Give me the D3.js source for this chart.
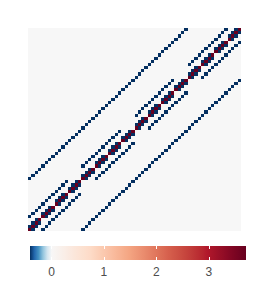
<!DOCTYPE html>
<html><head><meta charset="utf-8">
<script src="https://cdn.jsdelivr.net/npm/d3@7"></script>
<style>body{margin:0;background:#fff}svg{display:block}</style></head><body>
<svg id="c" width="270" height="300"></svg>
<script>
// ---- data ----
const nCells = 64;
const diagValue = 3.71;
const offDiagValue = -0.41;
// runs of rows r with a nonzero at (r, r + offset); the matrix is symmetric
const offset1Runs = [[0,2],[4,6],[8,10],[12,14],[16,18],[20,22],[24,26],[28,30],[32,34],[36,38],[40,42],[44,46],[48,50],[52,54],[56,58],[60,62]];
const offset4Runs = [[0,11],[16,27],[32,43],[48,59]];
const offset16Runs = [[0,47]];
const bandOffsets = [1, 4, 16];
const bandRuns = [offset1Runs, offset4Runs, offset16Runs];
const legendTicks = [0, 1, 2, 3];
const bluePal = ["#053061","#2166AC","#4393C3","#92C5DE","#D1E5F0","#F7F7F7"];
const redPal = ["#F7F7F7","#FDDBC7","#F4A582","#D6604D","#B2182B","#67001F"];

// ---- cells ----
const cells = [];
for (let i = 0; i < nCells; i++) cells.push({r: i, c: i, v: diagValue});
bandOffsets.forEach((k, bi) => {
  bandRuns[bi].forEach(([a, b]) => {
    for (let r = a; r <= b; r++) {
      cells.push({r: r, c: r + k, v: offDiagValue});
      cells.push({r: r + k, c: r, v: offDiagValue});
    }
  });
});

const idx = d3.range(nCells);
const panel = {x0: 28, x1: 241, y0: 28, y1: 231};
const x = d3.scaleBand().domain(idx).range([panel.x0, panel.x1]);
const y = d3.scaleBand().domain(idx).range([panel.y1, panel.y0]);

const vmin = offDiagValue, vmax = diagValue;
const dom = d3.range(6).map(i => vmin + (0 - vmin) * i / 5)
  .concat(d3.range(1, 6).map(i => vmax * i / 5));
const col = d3.scaleLinear().domain(dom)
  .range(bluePal.concat(redPal.slice(1))).interpolate(d3.interpolateLab);

const svg = d3.select("#c");
svg.append("rect").attr("x", panel.x0).attr("y", panel.y0)
  .attr("width", panel.x1 - panel.x0).attr("height", panel.y1 - panel.y0)
  .attr("fill", col(0));
svg.append("g").attr("shape-rendering", "crispEdges")
  .selectAll("rect").data(cells).join("rect")
  .attr("x", d => x(d.c)).attr("y", d => y(d.r))
  .attr("width", x.bandwidth()).attr("height", y.bandwidth())
  .attr("fill", d => col(d.v));

// ---- colour bar ----
const bar = {x0: 30, x1: 246, y0: 246, y1: 260};
const lx = d3.scaleLinear().domain([vmin, vmax]).range([bar.x0, bar.x1]);
const defs = svg.append("defs");
const grad = defs.append("linearGradient").attr("id", "g").attr("x1", "0%").attr("x2", "100%");
d3.range(0, 101).forEach(i => {
  const v = vmin + (vmax - vmin) * i / 100;
  grad.append("stop").attr("offset", i + "%").attr("stop-color", col(v));
});
svg.append("rect").attr("x", bar.x0).attr("y", bar.y0)
  .attr("width", bar.x1 - bar.x0).attr("height", bar.y1 - bar.y0)
  .attr("fill", "url(#g)");
const tg = svg.append("g").attr("shape-rendering", "crispEdges");
legendTicks.forEach(t => {
  const tx = Math.round(lx(t)) + 0.5;
  tg.append("line").attr("x1", tx).attr("x2", tx).attr("y1", bar.y0).attr("y2", bar.y0 + 3)
    .attr("stroke", "#fff");
  tg.append("line").attr("x1", tx).attr("x2", tx).attr("y1", bar.y1 - 3).attr("y2", bar.y1)
    .attr("stroke", "#fff");
});
svg.append("g").selectAll("text").data(legendTicks).join("text")
  .attr("x", d => lx(d)).attr("y", 276)
  .attr("text-anchor", "middle")
  .attr("font-family", "Liberation Sans, Arial, sans-serif")
  .attr("font-size", 12).attr("fill", "#4D4D4D")
  .text(d => d);
</script></body></html>
